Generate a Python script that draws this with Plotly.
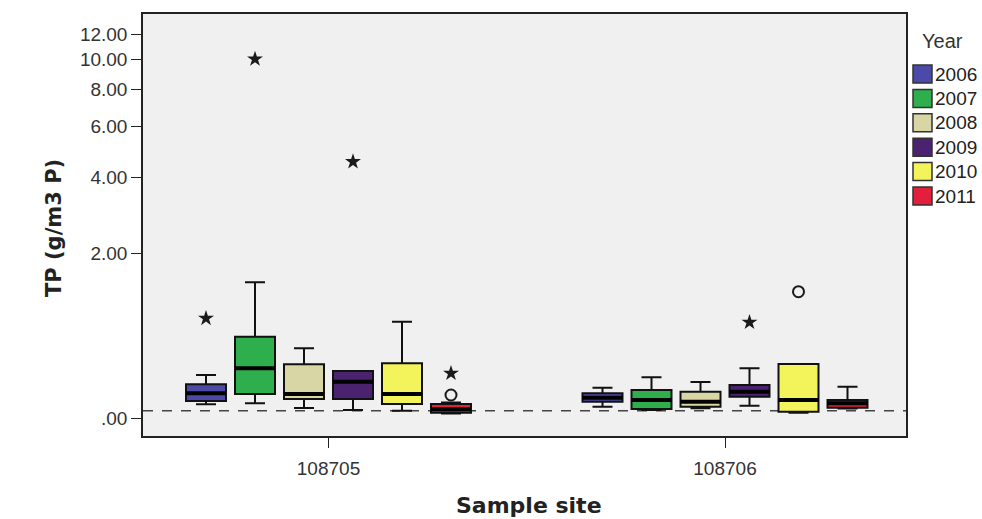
import numpy as np
import plotly.graph_objects as go

# ---------------- data (values in g/m3 P) ----------------
sites = ["108705", "108706"]
years = ["2006", "2007", "2008", "2009", "2010", "2011"]
colors = ["#4b4aa8", "#2eae4c", "#d9d6a6", "#4a2270", "#f3f35c", "#e2203c"]

# per year: [site 108705, site 108706]
q1 = {
    "2006": [0.120, 0.115], "2007": [0.174, 0.062], "2008": [0.135, 0.078],
    "2009": [0.135, 0.153], "2010": [0.098, 0.043], "2011": [0.036, 0.071],
}
median = {
    "2006": [0.179, 0.145], "2007": [0.394, 0.128], "2008": [0.174, 0.115],
    "2009": [0.274, 0.192], "2010": [0.174, 0.128], "2011": [0.060, 0.103],
}
q3 = {
    "2006": [0.252, 0.179], "2007": [0.721, 0.206], "2008": [0.431, 0.192],
    "2009": [0.369, 0.247], "2010": [0.441, 0.434], "2011": [0.098, 0.128],
}
lower = {
    "2006": [0.096, 0.078], "2007": [0.103, 0.055], "2008": [0.069, 0.067],
    "2009": [0.055, 0.086], "2010": [0.050, 0.036], "2011": [0.030, 0.065],
}
upper = {
    "2006": [0.333, 0.224], "2007": [1.475, 0.312], "2008": [0.593, 0.272],
    "2009": [0.369, 0.394], "2010": [0.903, 0.434], "2011": [0.110, 0.233],
}
# outliers: (site index, year, value, kind)  kind: "extreme" = star, "outlier" = circle
outliers = [
    (0, "2006", 0.946, "extreme"),
    (0, "2007", 10.0, "extreme"),
    (0, "2009", 4.54, "extreme"),
    (0, "2011", 0.348, "extreme"),
    (0, "2011", 0.166, "outlier"),
    (1, "2009", 0.895, "extreme"),
    (1, "2010", 1.325, "outlier"),
]
reference_value = 0.05
y_ticks = [0, 2, 4, 6, 8, 10, 12]
y_tick_labels = [".00", "2.00", "4.00", "6.00", "8.00", "10.00", "12.00"]

# ---------------- layout helpers ----------------
site_centers = [328.5, 725.0]   # x positions of the site clusters
box_step = 49.0
box_width = 40.0


def tr(v):
    return np.log1p(np.asarray(v, dtype=float))


def pos(site_i, year_i):
    return site_centers[site_i] + (year_i - 2.5) * box_step


fig = go.Figure()

for yi, yr in enumerate(years):
    xs = [pos(0, yi), pos(1, yi)]
    fig.add_trace(go.Box(
        x=xs,
        q1=tr(q1[yr]), median=tr(median[yr]), q3=tr(q3[yr]),
        lowerfence=tr(lower[yr]), upperfence=tr(upper[yr]),
        width=box_width, whiskerwidth=0.5,
        fillcolor=colors[yi], line=dict(color="#111111", width=2),
        boxpoints=False, name=yr, showlegend=False, hoverinfo="skip",
    ))

# thick median lines
mx, my = [], []
for yi, yr in enumerate(years):
    for si in range(2):
        c = pos(si, yi)
        m = float(tr(median[yr][si]))
        mx += [c - box_width / 2, c + box_width / 2, None]
        my += [m, m, None]
fig.add_trace(go.Scatter(x=mx, y=my, mode="lines",
                         line=dict(color="#000000", width=4),
                         showlegend=False, hoverinfo="skip"))

# outliers
for kind, sym, size in [("extreme", "star", 12), ("outlier", "circle-open", 11)]:
    ox = [pos(s, years.index(y)) for s, y, v, k in outliers if k == kind]
    oy = [float(tr(v)) for s, y, v, k in outliers if k == kind]
    fig.add_trace(go.Scatter(
        x=ox, y=oy, mode="markers",
        marker=dict(symbol=sym, size=size, color="#1a1a1a",
                    line=dict(color="#1a1a1a", width=2 if kind == "outlier" else 0)),
        showlegend=False, hoverinfo="skip"))

# ---------------- axes ----------------
L, R, T, B = 143, 906, 14, 436
W, H = 982, 519
yr0 = (418 - B) / 149.7
yr1 = (418 - T) / 149.7

fig.update_xaxes(
    range=[L, R], tickmode="array", tickvals=site_centers, ticktext=sites,
    ticks="outside", ticklen=10, tickwidth=1.2, tickcolor="#222",
    showline=True, linecolor="#222", linewidth=1.5, mirror=True,
    showgrid=False, zeroline=False,
    tickfont=dict(family="Liberation Sans", size=19, color="#333"),
    ticklabelstandoff=4,
)
fig.update_yaxes(
    range=[yr0, yr1], tickmode="array", tickvals=tr(y_ticks), ticktext=y_tick_labels,
    ticks="outside", ticklen=10, tickwidth=1.2, tickcolor="#222",
    showline=True, linecolor="#222", linewidth=1.5, mirror=True,
    showgrid=False, zeroline=False,
    tickfont=dict(family="Liberation Sans", size=19, color="#333"),
)

# dashed reference line
fig.add_shape(type="line", xref="x domain", yref="y", x0=0, x1=1,
              y0=float(tr(reference_value)), y1=float(tr(reference_value)),
              line=dict(color="#444", width=1.5, dash="10px,9px"), layer="below")


def px_x(p):
    return (p - L) / (R - L)


def px_y(p):
    return (B - p) / (B - T)


annotations = [
    dict(text="<b>TP (g/m3 P)</b>", textangle=-90, x=px_x(54), y=px_y(228),
         xanchor="center", yanchor="middle",
         xref="paper", yref="paper", showarrow=False,
         font=dict(family="DejaVu Sans", size=21, color="#222")),
    dict(text="<b>Sample site</b>", x=px_x(529), y=px_y(505),
         xanchor="center", yanchor="middle",
         xref="paper", yref="paper", showarrow=False,
         font=dict(family="DejaVu Sans", size=22, color="#222")),
    dict(text="Year", x=px_x(920), y=px_y(41), xanchor="left", yanchor="middle",
         xref="paper", yref="paper", showarrow=False,
         font=dict(family="Liberation Sans", size=20, color="#333")),
]
shapes = []
for yi, yr in enumerate(years):
    cy = 74 + yi * 24.4
    shapes.append(dict(type="rect", xref="paper", yref="paper",
                       x0=px_x(913), x1=px_x(932), y0=px_y(cy + 9), y1=px_y(cy - 9),
                       fillcolor=colors[yi], line=dict(color="#333", width=1.5)))
    annotations.append(dict(text=yr, x=px_x(933), y=px_y(cy), xanchor="left",
                            yanchor="middle",
                            xref="paper", yref="paper", showarrow=False,
                            font=dict(family="Liberation Sans", size=19, color="#222")))
for s in shapes:
    fig.add_shape(**s)

fig.update_layout(
    width=W, height=H,
    margin=dict(l=L, r=W - R, t=T, b=H - B, autoexpand=False),
    plot_bgcolor="#f0f0f0", paper_bgcolor="#ffffff",
    boxmode="overlay", annotations=annotations, showlegend=False,
)

fig.write_html("out.html")
